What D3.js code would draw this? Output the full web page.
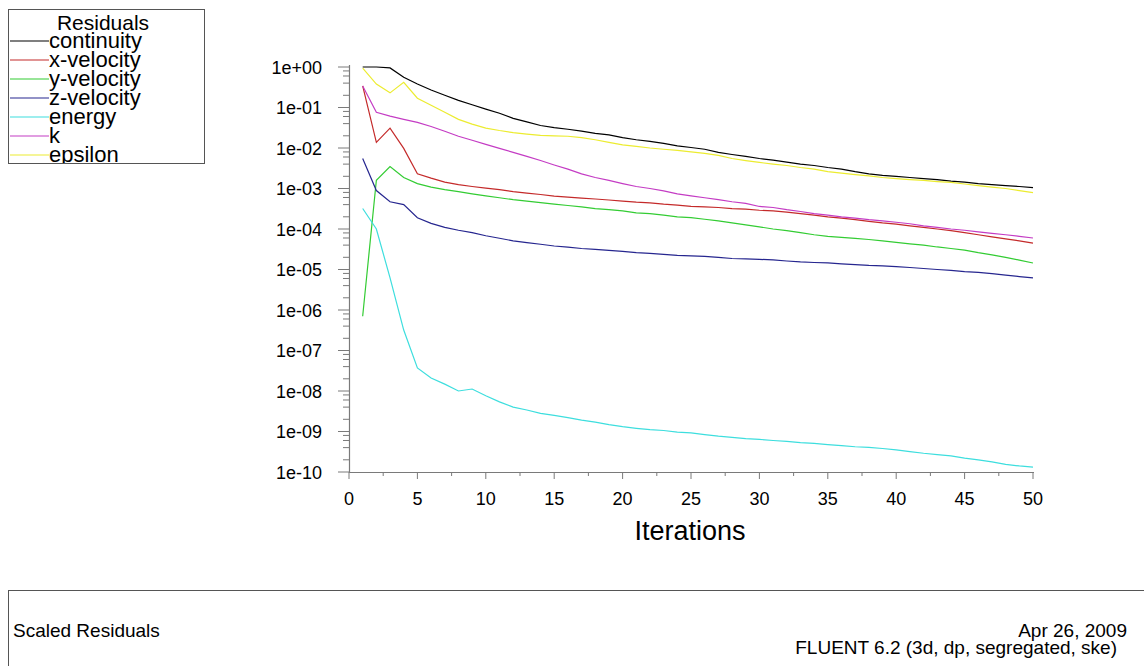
<!DOCTYPE html>
<html>
<head>
<meta charset="utf-8">
<script src="https://cdn.jsdelivr.net/npm/d3@7"></script>
<style>
  html, body { margin: 0; padding: 0; background: #fff; }
  svg { display: block; font-family: "Liberation Sans", Arial, Helvetica, sans-serif; }
</style>
</head>
<body>
<svg id="chart" width="1144" height="666"></svg>
<script>
// iterations 1..50
const iterations = [1,2,3,4,5,6,7,8,9,10,11,12,13,14,15,16,17,18,19,20,21,22,23,24,25,
  26,27,28,29,30,31,32,33,34,35,36,37,38,39,40,41,42,43,44,45,46,47,48,49,50];

const continuity = [1.0,1.0,0.95,0.56,0.38,0.27,0.2,0.15,0.117,0.091,0.072,0.054,0.044,0.036,0.032,
  0.029,0.026,0.023,0.021,0.018,0.016,0.0146,0.013,0.0113,0.0103,0.0093,0.0078,0.0069,0.0062,0.0055,
  0.005,0.0045,0.004,0.0037,0.0033,0.003,0.0026,0.0023,0.0021,0.002,0.00187,0.00176,0.00166,0.00152,
  0.00144,0.00132,0.00125,0.00118,0.00112,0.00105];

const xVelocity = [0.34,0.0138,0.031,0.0098,0.0023,0.0018,0.00144,0.00125,0.00112,0.00102,0.00094,
  0.00084,0.00077,0.00071,0.00065,0.00061,0.00058,0.00055,0.00052,0.00049,0.00046,0.00044,0.00041,
  0.00039,0.00036,0.00035,0.00034,0.00032,0.00031,0.00029,0.00028,0.00026,0.00024,0.00022,0.0002,
  0.000186,0.00017,0.000155,0.000141,0.000132,0.00012,0.00011,0.0001,0.000091,0.000081,0.000072,
  0.000064,0.000057,0.000051,0.000045];

const yVelocity = [7e-7,0.0016,0.0035,0.00187,0.00132,0.00108,0.00094,0.00084,0.00074,0.00066,0.00059,
  0.00053,0.00049,0.00045,0.00041,0.00038,0.00035,0.00032,0.0003,0.00028,0.00025,0.00024,0.00022,
  0.0002,0.00019,0.000174,0.000159,0.000141,0.000127,0.000113,0.0001,0.000091,0.000081,0.000072,
  0.000066,0.000062,0.000059,0.000055,0.000051,0.000047,0.000043,0.00004,0.000036,0.000033,0.00003,
  0.000026,0.000023,0.00002,0.000017,0.0000145];

const zVelocity = [0.0055,0.00089,0.00047,0.0004,0.00019,0.000138,0.00011,0.000093,0.000081,0.000068,
  0.000059,0.000051,0.000046,0.000042,0.000038,0.0000355,0.000033,0.0000315,0.0000295,0.000028,
  0.000026,0.000025,0.0000235,0.0000223,0.0000218,0.000021,0.00002,0.0000187,0.0000182,0.0000178,
  0.0000173,0.0000162,0.0000154,0.0000149,0.0000145,0.0000138,0.0000132,0.0000126,0.0000123,0.0000118,
  0.0000112,0.0000106,0.00001,0.0000095,0.0000089,0.0000085,0.0000079,0.0000073,0.0000067,0.0000062];

const energy = [3.2e-4,1e-4,6.2e-6,3.2e-7,3.7e-8,2.1e-8,1.48e-8,1.0e-8,1.12e-8,7.6e-9,5.4e-9,4.0e-9,
  3.4e-9,2.8e-9,2.5e-9,2.2e-9,1.9e-9,1.7e-9,1.48e-9,1.32e-9,1.2e-9,1.11e-9,1.06e-9,9.7e-10,9.2e-10,
  8.4e-10,7.7e-10,7.2e-10,6.7e-10,6.4e-10,6.0e-10,5.7e-10,5.3e-10,5.1e-10,4.75e-10,4.5e-10,4.2e-10,
  4.05e-10,3.8e-10,3.5e-10,3.2e-10,2.9e-10,2.7e-10,2.5e-10,2.2e-10,2.0e-10,1.77e-10,1.55e-10,1.41e-10,1.32e-10];

const k = [0.34,0.076,0.061,0.051,0.043,0.034,0.026,0.0195,0.0155,0.0123,0.0098,0.0078,0.0062,0.0049,
  0.0038,0.003,0.0023,0.00187,0.00158,0.00132,0.00112,0.001,0.00087,0.00074,0.00066,0.00059,0.00053,
  0.00047,0.00043,0.00036,0.00034,0.0003,0.00027,0.00024,0.00022,0.0002,0.000186,0.00017,0.000159,
  0.000147,0.000135,0.00012,0.00011,0.0001,0.000093,0.000085,0.000078,0.000072,0.000066,0.00006];

const epsilon = [0.94,0.38,0.23,0.42,0.17,0.114,0.076,0.051,0.039,0.031,0.027,0.024,0.022,0.0205,0.02,
  0.0195,0.018,0.016,0.0138,0.012,0.011,0.01,0.0093,0.0087,0.008,0.0074,0.0066,0.0055,0.0049,0.0044,
  0.004,0.0037,0.0033,0.003,0.0026,0.0024,0.0022,0.00204,0.00187,0.00176,0.00166,0.00158,0.00148,
  0.00141,0.00129,0.00118,0.00108,0.001,0.00089,0.00079];

const seriesNames = ['continuity', 'x-velocity', 'y-velocity', 'z-velocity', 'energy', 'k', 'epsilon'];
const seriesValues = [continuity, xVelocity, yVelocity, zVelocity, energy, k, epsilon];
const seriesColors = ['#000000', '#c42a2a', '#33cc33', '#26268f', '#3ddede', '#c43cc4', '#ecec30'];

const xTicks = [0,5,10,15,20,25,30,35,40,45,50];
const xMinorTicks = [2.5,7.5,12.5,17.5,22.5,27.5,32.5,37.5,42.5,47.5];
const yTicks = [1,1e-1,1e-2,1e-3,1e-4,1e-5,1e-6,1e-7,1e-8,1e-9,1e-10];
const yTickLabels = ['1e+00','1e-01','1e-02','1e-03','1e-04','1e-05','1e-06','1e-07','1e-08','1e-09','1e-10'];

const svg = d3.select('#chart');
const axisColor = '#7a7a7a';

const x = d3.scaleLinear().domain([0, 50]).range([349, 1033]);
const y = d3.scaleLog().domain([1e-10, 1]).range([472, 67]);

// axes lines
svg.append('line').attr('x1', x(0)).attr('x2', x(50) + 1).attr('y1', 472.5).attr('y2', 472.5)
  .attr('stroke', axisColor).attr('stroke-width', 1.2);
svg.append('line').attr('x1', 349.5).attr('x2', 349.5).attr('y1', 65).attr('y2', 473)
  .attr('stroke', axisColor).attr('stroke-width', 1.2);

// x ticks
svg.selectAll('.xt').data(xTicks).enter().append('line')
  .attr('x1', d => x(d)).attr('x2', d => x(d)).attr('y1', 472).attr('y2', 479)
  .attr('stroke', axisColor);
svg.selectAll('.xmt').data(xMinorTicks).enter().append('line')
  .attr('x1', d => x(d)).attr('x2', d => x(d)).attr('y1', 472).attr('y2', 476)
  .attr('stroke', axisColor);
svg.selectAll('.xl').data(xTicks).enter().append('text')
  .attr('x', d => x(d)).attr('y', 505).attr('text-anchor', 'middle')
  .attr('font-size', 18).attr('fill', '#000').text(d => d);

// y ticks (major + minor)
const yMinor = [];
yTicks.slice(0, -1).forEach(t => [0.8, 0.6, 0.4, 0.2].forEach(m => yMinor.push(t * m)));
svg.selectAll('.yt').data(yTicks).enter().append('line')
  .attr('x1', 338).attr('x2', 349).attr('y1', d => y(d)).attr('y2', d => y(d))
  .attr('stroke', axisColor);
svg.selectAll('.ymt').data(yMinor).enter().append('line')
  .attr('x1', 343).attr('x2', 349).attr('y1', d => y(d)).attr('y2', d => y(d))
  .attr('stroke', axisColor);
svg.selectAll('.yl').data(yTicks).enter().append('text')
  .attr('x', 322).attr('y', d => y(d) + 6.5).attr('text-anchor', 'end')
  .attr('font-size', 18).attr('fill', '#000').text((d, i) => yTickLabels[i]);

svg.append('text').attr('x', 690).attr('y', 540).attr('text-anchor', 'middle')
  .attr('font-size', 27).attr('fill', '#000').text('Iterations');

// series lines
const line = d3.line().x((d, i) => x(iterations[i])).y(d => y(d));
seriesValues.forEach((vals, s) => {
  svg.append('path').datum(vals).attr('d', line)
    .attr('fill', 'none').attr('stroke', seriesColors[s]).attr('stroke-width', 1.2);
});

// legend (bottom entry is clipped by the frame, as in the original)
svg.append('clipPath').attr('id', 'legclip').append('rect')
  .attr('x', 8).attr('y', 9).attr('width', 197).attr('height', 154);
const leg = svg.append('g').attr('clip-path', 'url(#legclip)');
leg.append('text').attr('x', 103).attr('y', 30).attr('text-anchor', 'middle')
  .attr('font-size', 21).attr('fill', '#000').text('Residuals');
seriesNames.forEach((name, i) => {
  const ly = 41 + i * 19;
  leg.append('line').attr('x1', 10).attr('x2', 49).attr('y1', ly).attr('y2', ly)
    .attr('stroke', seriesColors[i]).attr('stroke-width', 1.2);
  leg.append('text').attr('x', 49).attr('y', ly + 6.5).attr('font-size', 22)
    .attr('fill', '#000').text(name);
});
svg.append('rect').attr('x', 8.5).attr('y', 9.5).attr('width', 196).attr('height', 154)
  .attr('fill', 'none').attr('stroke', '#555').attr('stroke-width', 1);

// bottom info panel
svg.append('rect').attr('x', 8.5).attr('y', 590.5).attr('width', 1150).attr('height', 100)
  .attr('fill', 'none').attr('stroke', '#555').attr('stroke-width', 1);
svg.append('text').attr('x', 13).attr('y', 637).attr('font-size', 19).attr('fill', '#000')
  .text('Scaled Residuals');
svg.append('text').attr('x', 1127).attr('y', 637).attr('text-anchor', 'end').attr('font-size', 19)
  .attr('fill', '#000').text('Apr 26, 2009');
svg.append('text').attr('x', 1117).attr('y', 654).attr('text-anchor', 'end').attr('font-size', 19)
  .attr('fill', '#000').text('FLUENT 6.2 (3d, dp, segregated, ske)');
</script>
</body>
</html>
